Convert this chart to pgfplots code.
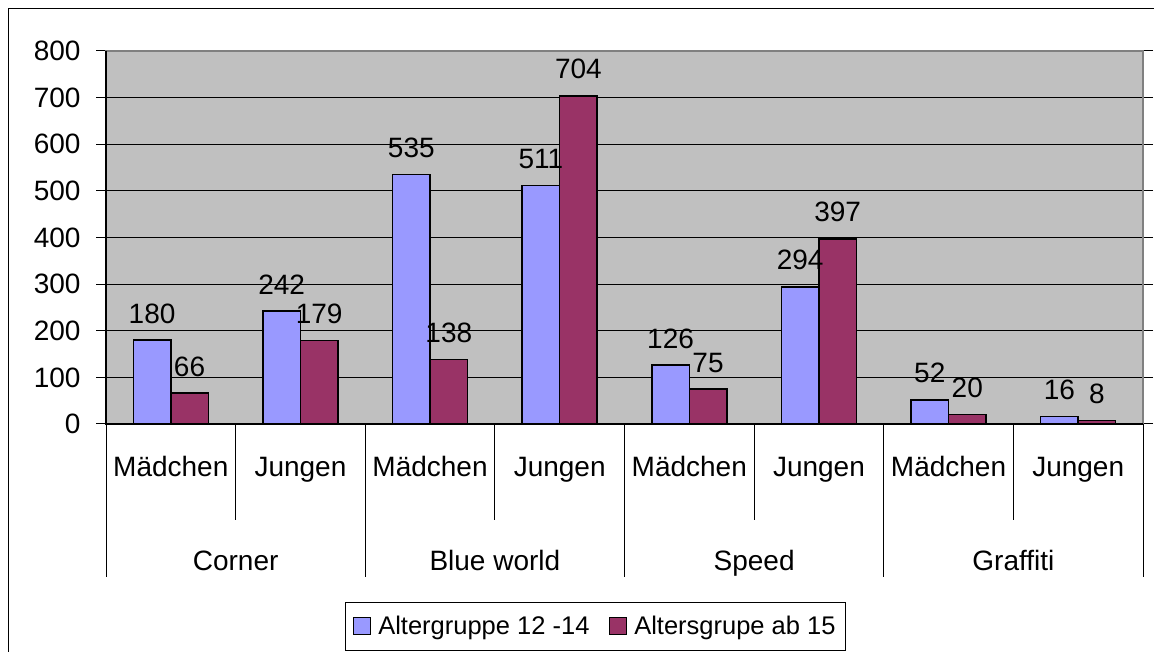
\documentclass[border=0pt]{standalone}
\usepackage{pgfplots}
\pgfplotsset{compat=1.18}
\usepackage{fontspec}
\setmainfont{Liberation Sans}
\definecolor{cblue}{HTML}{9999FF}
\definecolor{cred}{HTML}{993366}
\definecolor{cgray}{HTML}{C0C0C0}
\definecolor{cborder}{HTML}{808080}
\begin{document}
\begin{tikzpicture}[x=1pt,y=1pt]
\useasboundingbox (0,0) rectangle (1154,652);
\draw[line width=1.5pt] (8.5,-20) -- (8.5,643.5) -- (1180,643.5);
\begin{axis}[
  at={(106pt,228pt)}, anchor=south west,
  scale only axis, width=1037pt, height=373pt,
  xmin=-0.5, xmax=7.5, ymin=0, ymax=800,
  clip=false,
  ybar=0pt, bar width=37.5pt,
  axis background/.style={fill=cgray},
  axis line style={draw=cborder, line width=1.5pt},
  ymajorgrids, grid style={black, line width=1pt},
  ytick={0,100,...,800},
  tick align=outside, major tick length=10pt,
  ytick style={black, line width=1pt},
  xtick={0,...,7},
  xticklabels={Mädchen,Jungen,Mädchen,Jungen,Mädchen,Jungen,Mädchen,Jungen},
  xtick style={draw=none},
  xticklabel style={anchor=base, yshift=-43pt, font=\fontsize{28}{32}\selectfont},
  yticklabel style={font=\fontsize{28}{32}\selectfont, xshift=-12pt},
  /pgf/number format/assume math mode=true,
  extra x ticks={0.5,2.5,4.5,6.5},
  extra x tick labels={Corner,Blue world,Speed,Graffiti},
  extra x tick style={xticklabel style={yshift=-94pt}, grid=none},
  nodes near coords,
  every node near coord/.append style={anchor=base, yshift=17pt, font=\fontsize{28}{32}\selectfont, black},
  legend columns=2,
  legend image code/.code={\draw[#1, line width=1.5pt] (0pt,-8.5pt) rectangle (17pt,8.5pt); \path[draw=none, fill=none] (0pt,0pt) -- (23pt,0pt);},
  legend style={at={(0.4716,-0.5416)}, anchor=center, draw=black, line width=1pt, fill=white,
    font=\fontsize{25.5}{30}\selectfont, inner xsep=7.5pt, inner ysep=12pt,
    /tikz/every even column/.append style={column sep=17pt}},
]
\addplot[fill=cblue, draw=black, line width=1.5pt] coordinates {(0,180) (1,242) (2,535) (3,511) (4,126) (5,294) (6,52) (7,16)};
\addlegendentry{Altergruppe 12 -14}
\addplot[fill=cred, draw=black, line width=1.5pt] coordinates {(0,66) (1,179) (2,138) (3,704) (4,75) (5,397) (6,20) (7,8)};
\addlegendentry{Altersgrupe ab 15}
\draw[black, line width=1.5pt] (rel axis cs:0,1) -- (rel axis cs:0,0) -- (rel axis cs:1,0);
\pgfplotsinvokeforeach{-0.5,1.5,3.5,5.5,7.5}{\draw[black, line width=1pt] (axis cs:#1,0) -- ++(0pt,-153pt);}
\pgfplotsinvokeforeach{0.5,2.5,4.5,6.5}{\draw[black, line width=1pt] (axis cs:#1,0) -- ++(0pt,-96pt);}
\end{axis}
\end{tikzpicture}
\end{document}
